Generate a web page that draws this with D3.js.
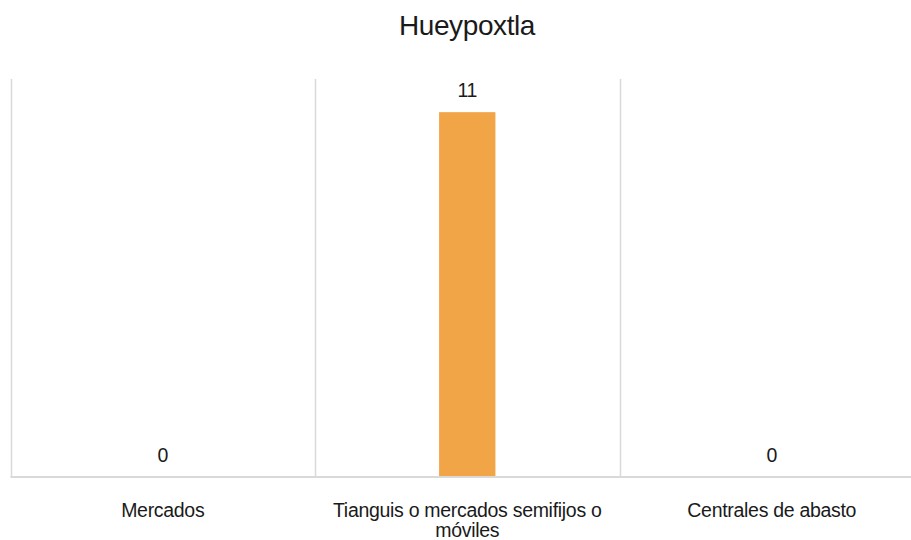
<!DOCTYPE html>
<html><head><meta charset="utf-8">
<script src="https://cdn.jsdelivr.net/npm/d3@7"></script>
<style>
html,body{margin:0;padding:0;background:#fff;}
text{font-family:"Liberation Sans",Arial,sans-serif;}
</style></head>
<body>
<svg id="chart" width="911" height="540"></svg>
<script>
const title = "Hueypoxtla";
const categories = ["Mercados", "Tianguis o mercados semifijos o móviles", "Centrales de abasto"];
const values = [0, 11, 0];
const yMax = 12;

(function () {
const svg = d3.select("#chart");
const W = 911, H = 540;
const plotLeft = 10.5, bandW = 304.5;
const plotTop = 79, plotBottom = 477;

const x = d3.scaleBand().domain(categories).range([plotLeft, plotLeft + bandW * categories.length]).paddingInner(0).paddingOuter(0);
const y = d3.scaleLinear().domain([0, yMax]).range([plotBottom, plotTop]);

svg.append("rect").attr("width", W).attr("height", H).attr("fill", "#fff");

// vertical gridlines (category separators)
const seps = categories.map((c) => x(c)).concat([x(categories[categories.length - 1]) + x.bandwidth()]);
svg.append("g").selectAll("line").data(seps).join("line")
  .attr("x1", d => Math.round(d) + 0.5).attr("x2", d => Math.round(d) + 0.5)
  .attr("y1", plotTop).attr("y2", plotBottom)
  .attr("stroke", "#d9d9d9").attr("stroke-width", 1.5);

// bars
const barFrac = 0.185;
svg.append("g").selectAll("rect").data(values).join("rect")
  .attr("x", (d, i) => x(categories[i]) + x.bandwidth() * (1 - barFrac) / 2)
  .attr("width", x.bandwidth() * barFrac)
  .attr("y", d => y(d))
  .attr("height", d => y(0) - y(d))
  .attr("fill", "#f2a546");

// baseline axis
const xAxis = d3.axisBottom(x).tickSize(0).tickFormat("");
const ax = svg.append("g").attr("transform", `translate(0,${plotBottom})`).call(xAxis);
ax.select(".domain").attr("stroke", "#d9d9d9").attr("stroke-width", 2).attr("d", `M${plotLeft},0H${W}`);

// data labels
svg.append("g").selectAll("text").data(values).join("text")
  .attr("x", (d, i) => x(categories[i]) + x.bandwidth() / 2)
  .attr("y", d => y(d) - 15.5)
  .attr("text-anchor", "middle")
  .attr("font-size", 19.5)
  .attr("letter-spacing", -0.3)
  .attr("fill", "#1a1a1a")
  .text(d => d);

// category labels with wrapping
const catG = svg.append("g");
categories.forEach((c, i) => {
  const cx = x(c) + x.bandwidth() / 2;
  const t = catG.append("text")
    .attr("x", cx)
    .attr("y", 516.5)
    .attr("text-anchor", "middle")
    .attr("font-size", 19.5)
    .attr("letter-spacing", -0.3)
    .attr("fill", "#1a1a1a");
  const words = c.split(" ");
  let line = [];
  let tspan = t.append("tspan").attr("x", cx).attr("dy", 0);
  words.forEach(w => {
    line.push(w);
    tspan.text(line.join(" "));
    if (tspan.node().getComputedTextLength() > 280 && line.length > 1) {
      line.pop();
      tspan.text(line.join(" "));
      line = [w];
      tspan = t.append("tspan").attr("x", cx).attr("dy", 20).text(w);
    }
  });
});

// title
svg.append("text")
  .attr("x", 467).attr("y", 34.5)
  .attr("text-anchor", "middle")
  .attr("font-size", 28)
  .attr("letter-spacing", -0.4)
  .attr("fill", "#1a1a1a")
  .text(title);
})();
</script>
</body></html>
